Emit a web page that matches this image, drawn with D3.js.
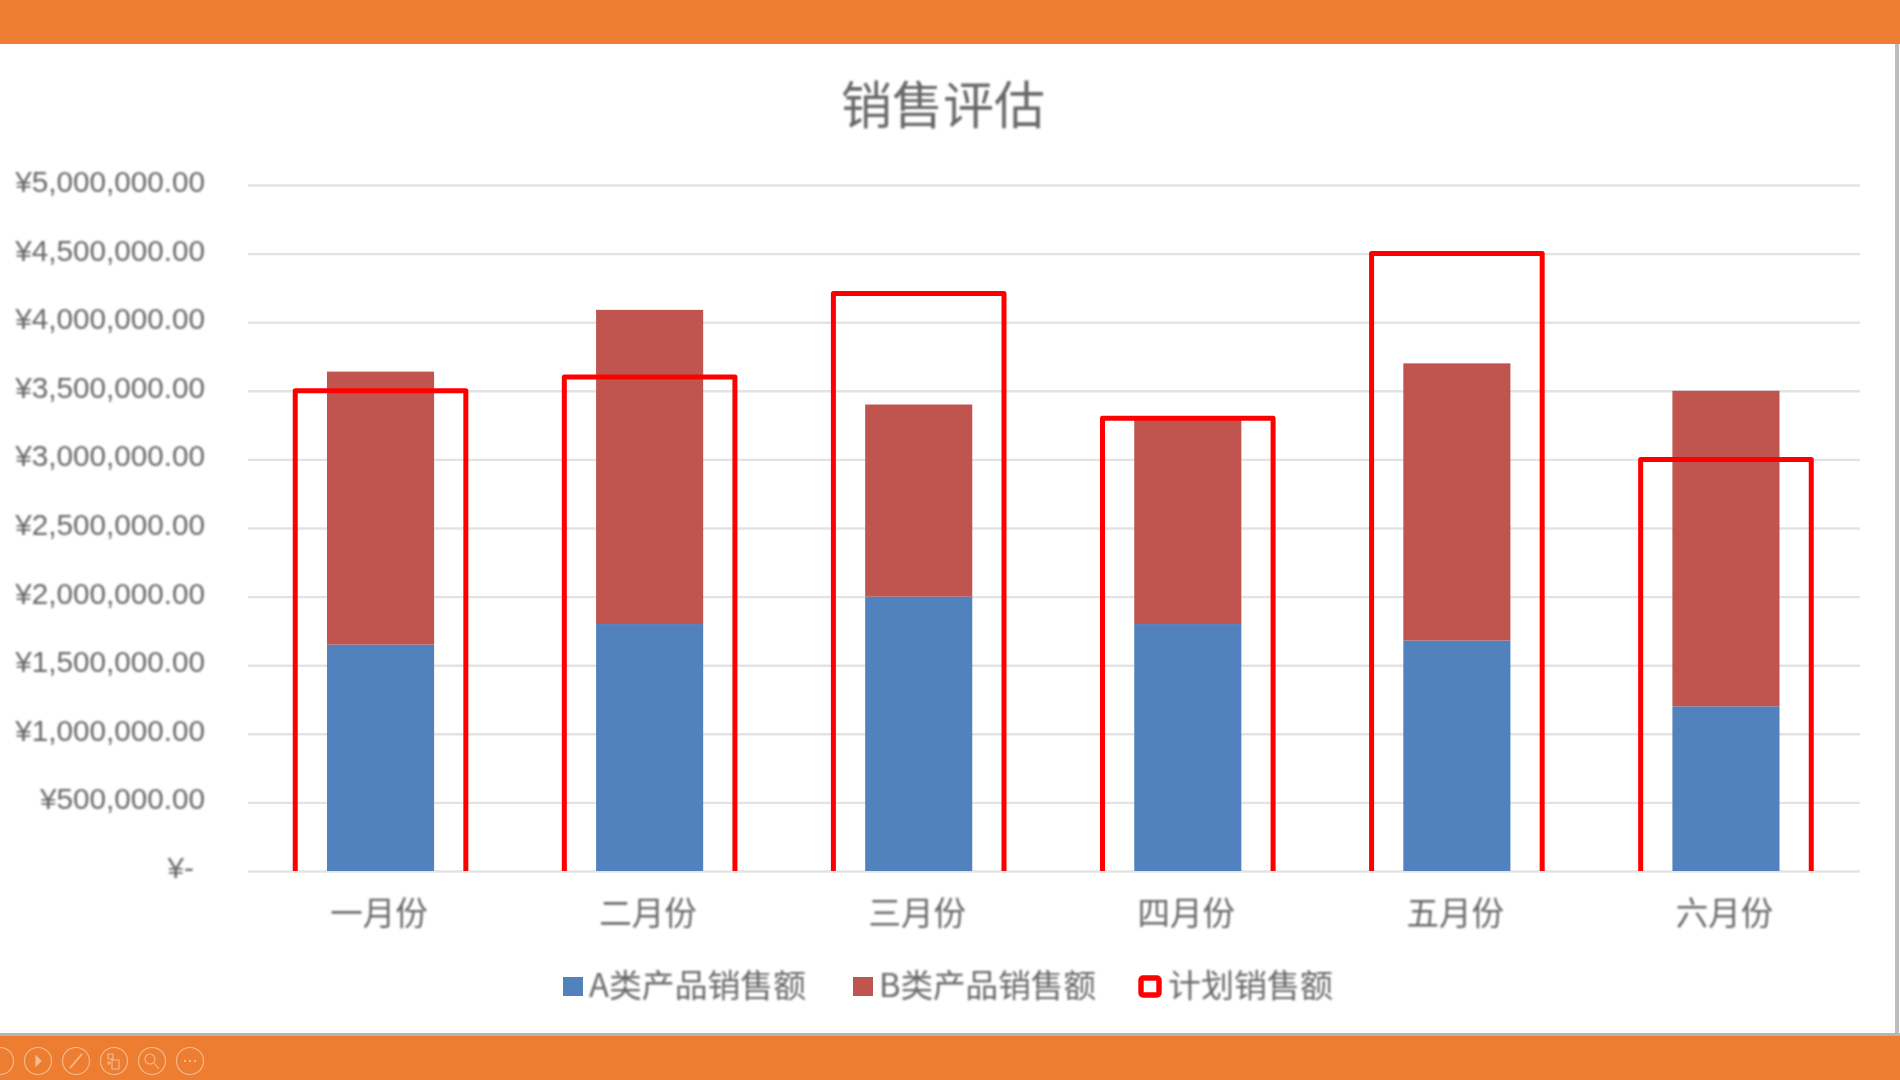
<!DOCTYPE html>
<html lang="zh">
<head>
    <meta charset="UTF-8">
    <title>销售评估</title>
    <script src="https://cdn.jsdelivr.net/npm/d3@7"></script>
    <style>
        body {
            margin: 0;
            background: #fff;
            overflow: hidden;
        }
        svg {
            display: block;
            font-family: "Noto Sans CJK SC", "Noto Sans", sans-serif;
        }
        text {
            fill: #686868;
            filter: blur(0.8px);
        }
    </style>
</head>
<body>
    <svg width="1900" height="1080"></svg>

    <script>
        const months = ["一月份", "二月份", "三月份", "四月份", "五月份", "六月份"];
        const salesA = [1650000, 1800000, 2000000, 1800000, 1680000, 1200000];
        const salesB = [1990000, 2290000, 1400000, 1500000, 2020000, 2300000];
        const planned = [3500000, 3600000, 4210000, 3300000, 4500000, 3000000];
        const yTicks = [0, 500000, 1000000, 1500000, 2000000, 2500000, 3000000, 3500000, 4000000, 4500000, 5000000];
        const seriesNames = ["A类产品销售额", "B类产品销售额", "计划销售额"];
        const seriesColors = ["#5282be", "#c0544f", "#ff0000"];

        const svg = d3.select("svg");

        // slide frame around the chart
        svg.append("rect").attr("width", 1900).attr("height", 44).attr("fill", "#ed7d31");
        svg.append("rect").attr("y", 1036).attr("width", 1900).attr("height", 44).attr("fill", "#ed7d31");
        svg.append("rect").attr("y", 1033).attr("width", 1900).attr("height", 3).attr("fill", "#b4b4b4");
        svg.append("rect").attr("x", 1895).attr("y", 44).attr("width", 4).attr("height", 989).attr("fill", "#bdbdbd");

        const x = d3.scaleBand().domain(months).range([246, 1860.5]);
        const barX = d3.scaleBand().domain(months).range([246, 1860.5]).paddingInner(0.602).paddingOuter(0.301);
        const y = d3.scaleLinear().domain([0, 5000000]).range([871, 185]);

        const yAxis = d3.axisLeft(y)
            .tickValues(yTicks)
            .tickSize(1612)
            .tickPadding(43)
            .tickFormat(d => d === 0 ? "¥-" : "¥" + d3.format(",.2f")(d));

        const yG = svg.append("g")
            .attr("transform", "translate(1860,0)")
            .call(yAxis);
        yG.select(".domain").remove();
        yG.selectAll(".tick line").attr("stroke", "#e3e3e3").attr("stroke-width", 2.4);
        yG.selectAll(".tick text")
            .attr("font-size", 29.7)
            .attr("dy", "0.22em")
            .attr("text-anchor", "end");
        yG.selectAll(".tick").filter(d => d === 0).select("text").attr("dx", -11);

        const stacked = d3.stack().keys(["a", "b"])(months.map((m, i) => ({ month: m, a: salesA[i], b: salesB[i] })));

        svg.append("g").selectAll("g")
            .data(stacked)
            .enter().append("g")
            .attr("fill", (d, i) => seriesColors[i])
            .selectAll("rect")
            .data(d => d)
            .enter().append("rect")
            .attr("x", d => barX(d.data.month))
            .attr("y", d => y(d[1]))
            .attr("width", barX.bandwidth())
            .attr("height", d => y(d[0]) - y(d[1]));

        // plan outline has no visible bottom edge
        const planWidth = x.bandwidth() * 0.634;
        svg.append("g").selectAll("path")
            .data(months)
            .enter().append("path")
            .attr("fill", "none")
            .attr("stroke", seriesColors[2])
            .attr("stroke-width", 5)
            .attr("stroke-linejoin", "round")
            .attr("d", (m, i) => {
                const left = x(m) + x.bandwidth() / 2 - planWidth / 2;
                const p = d3.path();
                p.moveTo(left, y(0));
                p.lineTo(left, y(planned[i]));
                p.lineTo(left + planWidth, y(planned[i]));
                p.lineTo(left + planWidth, y(0));
                return p.toString();
            });

        svg.append("g").selectAll("text")
            .data(months)
            .enter().append("text")
            .attr("x", d => x(d) + x.bandwidth() / 2 - 1.5)
            .attr("y", 925)
            .attr("text-anchor", "middle")
            .attr("font-size", 32.5)
            .text(d => d);

        svg.append("text")
            .attr("x", 943)
            .attr("y", 124)
            .attr("text-anchor", "middle")
            .attr("font-size", 51)
            .text("销售评估");

        // legend
        const legendX = [563, 853, 1141];
        const legend = svg.append("g").selectAll("g")
            .data(seriesNames)
            .enter().append("g")
            .attr("transform", (d, i) => `translate(${legendX[i]},977)`);
        legend.append("rect")
            .attr("width", (d, i) => i === 2 ? 18 : 20)
            .attr("height", (d, i) => i === 2 ? 17 : 19)
            .attr("y", (d, i) => i === 2 ? 1 : 0)
            .attr("rx", (d, i) => i === 2 ? 2 : 0)
            .attr("fill", (d, i) => i === 2 ? "#fff" : seriesColors[i])
            .attr("stroke", (d, i) => i === 2 ? seriesColors[2] : "none")
            .attr("stroke-width", 5.4);
        legend.append("text")
            .attr("x", (d, i) => i === 2 ? 27 : 26)
            .attr("y", 20)
            .attr("font-size", 32)
            .attr("textLength", (d, i) => i === 2 ? 165 : 217)
            .attr("lengthAdjust", "spacingAndGlyphs")
            .text(d => d);

        // slide show toolbar, bottom left
        const toolbarX = [0, 38, 76, 114, 152, 190];
        const toolbar = svg.append("g")
            .attr("fill", "none")
            .attr("stroke", "#f3bd94")
            .attr("stroke-width", 1.1);
        toolbar.selectAll("circle")
            .data(toolbarX)
            .enter().append("circle")
            .attr("cx", d => d)
            .attr("cy", 1061)
            .attr("r", 13.5);
        toolbar.append("path").attr("d", "M36 1056l5 5-5 5z").attr("fill", "#f3bd94");
        toolbar.append("path").attr("d", "M70 1068l12-14").attr("stroke-width", 1.8);
        toolbar.append("path").attr("d", "M108 1054h5v5h-5zM112 1060h7v9h-7zM108 1062h2v2h-2z");
        toolbar.append("circle").attr("cx", 150).attr("cy", 1059).attr("r", 5);
        toolbar.append("path").attr("d", "M154 1063l5 6");
        toolbar.append("path").attr("d", "M184 1061h2M189 1061h2M194 1061h2").attr("stroke-width", 2.2);
    </script>
</body>
</html>
